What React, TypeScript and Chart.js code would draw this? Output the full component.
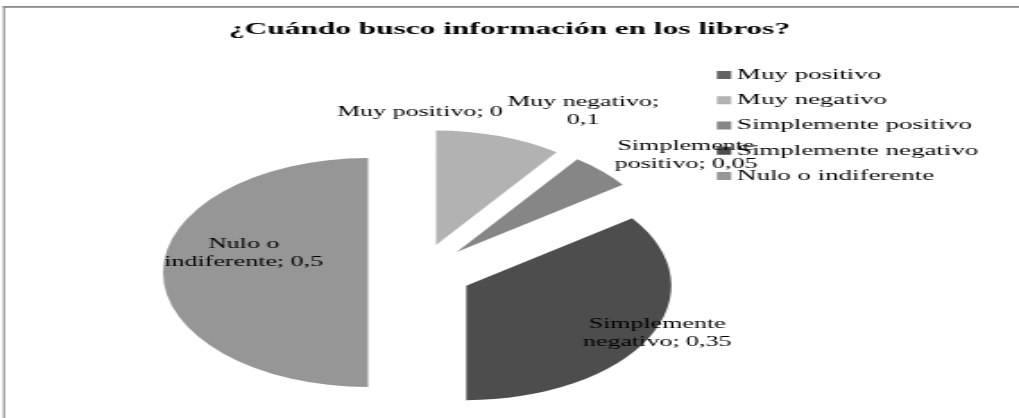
import React, { useEffect, useRef } from 'react';
import { Chart, registerables } from 'chart.js';

Chart.register(...registerables);

// ---- data ----
const categories = ['Muy positivo', 'Muy negativo', 'Simplemente positivo', 'Simplemente negativo', 'Nulo o indiferente'];
const values = [0, 0.1, 0.05, 0.35, 0.5];
const sliceColors = ['#636363', '#b2b2b2', '#868686', '#4d4d4d', '#969696'];
const titleText = '¿Cuándo busco información en los libros?';

// ---- label placement (relative to each exploded slice) ----
const labelRadius = [1.15, 1.37, 1.4, 1.02, 0.63];
const labelAngleShift = [0, 13.6, 8, -2.9, 15.8];

// ---- geometry / style (canvas works in a narrow logical space, stretched to page width) ----
const LOGICAL_W = 569;
const PAGE_W = 1019;
const H = 418;
const PIE_RADIUS = 114.5;
const EXPLODE = 29;
const LABEL_WRAP = 100;
const LABEL_LINE = 18;
const SERIF = '"Liberation Serif", "Times New Roman", serif';

const TITLE_Y = 29.5;
const LEGEND_X = 400.3;
const LEGEND_Y = 75;
const LEGEND_ROW = 25.25;
const LEGEND_BOX = 8;
const LEGEND_GAP = 3.3;

function wrap(ctx: CanvasRenderingContext2D, text: string, maxW: number): string[] {
  const words = text.split(' ');
  const lines: string[] = [];
  let cur = '';
  for (const w of words) {
    const test = cur ? cur + ' ' + w : w;
    if (cur && ctx.measureText(test).width > maxW) {
      lines.push(cur);
      cur = w;
    } else {
      cur = test;
    }
  }
  if (cur) lines.push(cur);
  return lines;
}

const framePlugin = {
  id: 'frame',
  beforeDraw(chart: any) {
    const ctx = chart.ctx as CanvasRenderingContext2D;
    ctx.save();
    // outer frame (left and top edges visible)
    ctx.fillStyle = '#8a8a8a';
    ctx.fillRect(1.67, 6, LOGICAL_W, 1.8);
    ctx.fillRect(1.67, 6, 1.12, H);

    // title
    ctx.fillStyle = '#000';
    ctx.font = `bold 17.5px ${SERIF}`;
    ctx.textAlign = 'center';
    ctx.textBaseline = 'middle';
    ctx.fillText(titleText, chart.width / 2, TITLE_Y);

    // legend
    ctx.font = `15px ${SERIF}`;
    ctx.textAlign = 'left';
    categories.forEach((c, i) => {
      const y = LEGEND_Y + i * LEGEND_ROW;
      ctx.fillStyle = sliceColors[i];
      ctx.fillRect(LEGEND_X, y - LEGEND_BOX / 2, LEGEND_BOX, LEGEND_BOX);
      ctx.fillStyle = '#000';
      ctx.fillText(c, LEGEND_X + LEGEND_BOX + LEGEND_GAP, y);
    });
    ctx.restore();
  },
};

const explodePlugin = {
  id: 'explode',
  beforeDatasetsDraw(chart: any) {
    const ctx = chart.ctx;
    chart.getSortedVisibleDatasetMetas().forEach((meta: any) => {
      meta.data.forEach((arc: any) => {
        const p = arc.getProps(['startAngle', 'endAngle'], true);
        const mid = (p.startAngle + p.endAngle) / 2;
        ctx.save();
        ctx.translate(Math.cos(mid) * EXPLODE, Math.sin(mid) * EXPLODE);
        arc.draw(ctx);
        ctx.restore();
      });
    });
    return false;
  },
  afterDraw(chart: any) {
    const ctx = chart.ctx as CanvasRenderingContext2D;
    const meta = chart.getDatasetMeta(0);
    ctx.save();
    ctx.font = `14.5px ${SERIF}`;
    ctx.fillStyle = '#000';
    ctx.textAlign = 'center';
    ctx.textBaseline = 'middle';
    meta.data.forEach((arc: any, i: number) => {
      const p = arc.getProps(['x', 'y', 'startAngle', 'endAngle', 'outerRadius'], true);
      const mid = (p.startAngle + p.endAngle) / 2;
      const sx = p.x + Math.cos(mid) * EXPLODE;
      const sy = p.y + Math.sin(mid) * EXPLODE;
      const a = mid + (labelAngleShift[i] * Math.PI) / 180;
      const r = labelRadius[i] * p.outerRadius;
      const lx = sx + Math.cos(a) * r;
      const ly = sy + Math.sin(a) * r;
      const text = `${categories[i]}; ${String(values[i]).replace('.', ',')}`;
      const lines = wrap(ctx, text, LABEL_WRAP);
      lines.forEach((ln, k) => {
        ctx.fillText(ln, lx, ly + (k - (lines.length - 1) / 2) * LABEL_LINE);
      });
    });
    ctx.restore();
  },
};

export default function App() {
  const ref = useRef<HTMLCanvasElement>(null);

  useEffect(() => {
    const canvas = ref.current;
    if (!canvas) return;
    const chart = new Chart(canvas, {
      type: 'pie',
      data: {
        labels: categories,
        datasets: [
          {
            data: values,
            backgroundColor: sliceColors,
            borderWidth: 0,
            radius: PIE_RADIUS,
          } as any,
        ],
      },
      options: {
        responsive: false,
        devicePixelRatio: 1,
        animation: false,
        events: [],
        layout: { padding: { left: 80, right: 180, top: 127, bottom: 0 } },
        plugins: {
          title: { display: false },
          legend: { display: false },
          tooltip: { enabled: false },
        },
      } as any,
      plugins: [framePlugin, explodePlugin],
    });
    return () => chart.destroy();
  }, []);

  return (
    <div style={{ position: 'absolute', left: 0, top: 0, width: PAGE_W, height: H, background: '#fff' }}>
      <canvas
        ref={ref}
        width={LOGICAL_W}
        height={H}
        style={{ width: PAGE_W + 'px', height: H + 'px', display: 'block' }}
      />
    </div>
  );
}
